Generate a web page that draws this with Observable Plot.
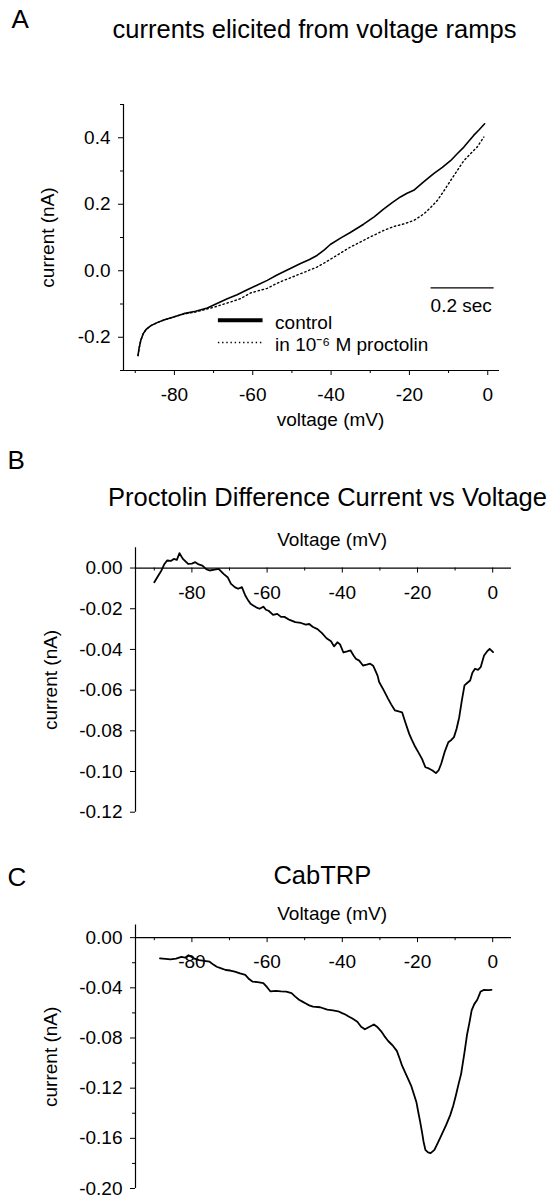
<!DOCTYPE html>
<html><head><meta charset="utf-8">
<script src="https://cdn.jsdelivr.net/npm/d3@7"></script>
<script src="https://cdn.jsdelivr.net/npm/@observablehq/plot@0.6"></script>
<style>
html,body{margin:0;padding:0;background:#fff;}
#root{width:559px;height:1199px;overflow:hidden;background:#fff;}
#root svg{display:block;}
</style></head><body><div id="root"></div>
<script>
// ---------- Panel A: currents elicited from voltage ramps ----------
const ctrlV = [-89.3,-89.0,-88.6,-88.0,-87.2,-86.0,-84.4,-82.7,-80.2,-77.6,-74.6,-71.6,-69.0,-66.5,-64.0,-61.4,-58.8,-56.3,-53.8,-51.2,-47.8,-45.5,-43.6,-41.8,-40.2,-37.6,-35.1,-31.7,-29.0,-26.6,-24.4,-22.3,-20.6,-18.9,-16.3,-13.8,-11.6,-9.5,-7.8,-6.1,-4.8,-3.6,-2.2,-0.8];
const ctrlI = [-0.255,-0.232,-0.210,-0.190,-0.176,-0.165,-0.156,-0.148,-0.139,-0.129,-0.122,-0.112,-0.098,-0.084,-0.072,-0.057,-0.043,-0.029,-0.013,0.002,0.022,0.034,0.046,0.062,0.079,0.098,0.115,0.140,0.162,0.185,0.205,0.222,0.233,0.242,0.268,0.292,0.311,0.331,0.352,0.372,0.390,0.407,0.424,0.442];
const procV = [-89.3,-89.0,-88.6,-88.0,-87.2,-86.0,-84.4,-82.7,-80.2,-77.6,-74.6,-72.0,-70.0,-66.5,-63.1,-60.6,-58.5,-56.3,-54.2,-52.1,-49.9,-47.8,-45.7,-43.6,-41.5,-39.4,-37.2,-35.1,-32.9,-30.8,-28.7,-26.6,-24.0,-21.4,-18.9,-16.3,-14.6,-12.9,-11.2,-9.5,-7.8,-6.1,-4.4,-2.7,-1.0];
const procI = [-0.255,-0.232,-0.210,-0.190,-0.176,-0.165,-0.156,-0.148,-0.139,-0.130,-0.124,-0.116,-0.110,-0.097,-0.084,-0.067,-0.060,-0.053,-0.040,-0.029,-0.019,-0.009,0.001,0.011,0.025,0.040,0.056,0.071,0.084,0.097,0.109,0.121,0.133,0.141,0.151,0.171,0.190,0.211,0.240,0.271,0.301,0.331,0.352,0.372,0.402];
const aXDomain = [-93, 3];
const aYDomain = [-0.3, 0.5];
const aXMajor = [-80, -60, -40, -20, 0];
const aXMinor = [-90, -70, -50, -30, -10];
const aYMajor = [-0.2, 0.0, 0.2, 0.4];
const aYMinor = [-0.3, -0.1, 0.1, 0.3, 0.5];
const legendLabels = ["control", "in 10\u207B\u2076 M proctolin"];
const legendLineY = [-0.149, -0.216];
const legendTextY = [-0.174, -0.241];
const legendX = {x1: -68.9, x2: -57.5, text: -54.3};
const scaleBar = {x1: -14.6, x2: 1.5, y: -0.0513, labelY: -0.1247, label: "0.2 sec"};

// ---------- Panel B: Proctolin difference current ----------
const diffV = [-90.0,-89.2,-88.1,-87.3,-86.6,-85.6,-84.8,-84.0,-83.3,-82.4,-81.0,-80.0,-79.1,-78.2,-77.2,-76.2,-75.3,-74.0,-72.9,-71.5,-70.5,-69.6,-68.5,-67.7,-66.7,-65.8,-65.0,-64.4,-63.6,-62.9,-62.0,-61.0,-60.3,-59.6,-58.4,-57.3,-56.3,-55.4,-54.0,-52.5,-51.0,-49.7,-48.8,-47.8,-46.6,-45.4,-44.2,-43.0,-42.2,-41.3,-40.6,-39.7,-38.7,-37.8,-37.0,-36.4,-35.5,-34.5,-33.5,-32.6,-31.8,-31.2,-30.6,-30.2,-29.0,-27.8,-27.0,-26.0,-25.0,-24.1,-23.2,-22.2,-21.5,-20.8,-19.8,-18.8,-17.9,-17.0,-16.0,-15.1,-14.4,-13.7,-12.8,-11.8,-11.0,-10.3,-9.6,-8.9,-8.2,-7.5,-6.8,-6.0,-5.4,-4.7,-3.9,-3.2,-2.3,-1.5,-0.8,0.1];
const diffI = [-0.0070,-0.0045,-0.0012,0.0020,0.0037,0.0035,0.0045,0.0040,0.0073,0.0045,0.0020,0.0022,0.0029,0.0018,0.0012,-0.0005,-0.0012,-0.0008,-0.0004,-0.0030,-0.0045,-0.0078,-0.0095,-0.0102,-0.0094,-0.0135,-0.0160,-0.0176,-0.0185,-0.0193,-0.0200,-0.0190,-0.0205,-0.0210,-0.0230,-0.0225,-0.0240,-0.0240,-0.0255,-0.0266,-0.0270,-0.0278,-0.0275,-0.0290,-0.0300,-0.0320,-0.0345,-0.0360,-0.0385,-0.0365,-0.0375,-0.0415,-0.0410,-0.0405,-0.0430,-0.0446,-0.0455,-0.0479,-0.0475,-0.0470,-0.0480,-0.0504,-0.0530,-0.0560,-0.0600,-0.0643,-0.0670,-0.0700,-0.0705,-0.0709,-0.0760,-0.0815,-0.0845,-0.0872,-0.0905,-0.0938,-0.0979,-0.0985,-0.0995,-0.1008,-0.0995,-0.0962,-0.0905,-0.0856,-0.0845,-0.0831,-0.0790,-0.0733,-0.0650,-0.0577,-0.0565,-0.0553,-0.0515,-0.0495,-0.0500,-0.0487,-0.0430,-0.0410,-0.0397,-0.0413];
const bXDomain = [-95, 5];
const bYDomain = [-0.12, 0.01];
const bYMajor = [0, -0.02, -0.04, -0.06, -0.08, -0.10, -0.12];

// ---------- Panel C: CabTRP ----------
const trpV = [-88.5,-87.0,-85.7,-84.2,-82.8,-81.8,-80.9,-79.5,-78.1,-76.7,-75.3,-74.3,-73.4,-72.2,-71.0,-69.8,-68.6,-67.2,-65.8,-64.8,-63.9,-62.5,-61.0,-60.0,-59.1,-57.7,-56.3,-54.9,-53.5,-52.5,-51.5,-50.6,-49.7,-48.8,-47.8,-45.9,-44.0,-42.5,-41.1,-40.2,-39.2,-38.2,-37.3,-36.0,-35.0,-34.0,-33.0,-31.6,-30.6,-29.7,-28.8,-27.8,-26.6,-25.5,-24.8,-24.1,-22.9,-21.7,-21.0,-20.3,-19.8,-19.3,-18.8,-18.4,-17.9,-17.2,-16.5,-15.5,-14.5,-13.6,-12.4,-11.3,-10.5,-9.8,-9.1,-8.4,-7.5,-6.8,-6.2,-5.6,-4.9,-4.1,-3.2,-2.3,-1.2,-0.3];
const trpI = [-0.0166,-0.0170,-0.0174,-0.0168,-0.0153,-0.0160,-0.0140,-0.0165,-0.0179,-0.0185,-0.0192,-0.0215,-0.0232,-0.0245,-0.0258,-0.0262,-0.0271,-0.0285,-0.0297,-0.0330,-0.0350,-0.0355,-0.0363,-0.0395,-0.0429,-0.0425,-0.0429,-0.0430,-0.0442,-0.0470,-0.0495,-0.0510,-0.0525,-0.0540,-0.0550,-0.0555,-0.0574,-0.0580,-0.0587,-0.0600,-0.0613,-0.0630,-0.0645,-0.0670,-0.0710,-0.0731,-0.0715,-0.0692,-0.0715,-0.0745,-0.0785,-0.0824,-0.0860,-0.0903,-0.0960,-0.1021,-0.1100,-0.1179,-0.1245,-0.1310,-0.1390,-0.1467,-0.1550,-0.1625,-0.1692,-0.1712,-0.1718,-0.1692,-0.1630,-0.1573,-0.1495,-0.1415,-0.1340,-0.1258,-0.1170,-0.1086,-0.0915,-0.0770,-0.0680,-0.0580,-0.0530,-0.0495,-0.0429,-0.0416,-0.0418,-0.0416];
const cXDomain = [-95, 5];
const cYDomain = [-0.20, 0.01];
const cYMajor = [0, -0.04, -0.08, -0.12, -0.16, -0.20];
const cYMinor = [-0.02, -0.06, -0.10, -0.14, -0.18];

// shared voltage ticks for B and C (axis drawn on the zero line)
const vMajor = [-80, -60, -40, -20, 0];
const vMinor = [-90, -70, -50, -30, -10];

const FONT = "'Liberation Sans', Arial, Helvetica, sans-serif";
const zip = (xs, ys) => xs.map((v, k) => ({v, i: ys[k]}));
const fmt1 = d => d.toFixed(1);
const fmt2 = d => d.toFixed(2);
const baseStyle = {fontFamily: FONT, fontSize: "19px", color: "#000", background: "#fff", overflow: "visible"};
const txt = (s, o) => Plot.text([s], {text: d => d, fill: "#000", stroke: null, ...o});

// Panel A
const plotA = Plot.plot({
  width: 559, height: 450,
  marginTop: 104, marginBottom: 80, marginLeft: 123, marginRight: 60,
  style: baseStyle,
  x: {domain: aXDomain, label: null, axis: null},
  y: {domain: aYDomain, label: null, axis: null},
  marks: [
    Plot.ruleX([aXDomain[0]], {stroke: "#000", strokeWidth: 1.2}),
    Plot.ruleY([aYDomain[0]], {stroke: "#000", strokeWidth: 1.2}),
    Plot.axisY({ticks: aYMajor, tickSize: 5, tickPadding: 8, tickFormat: fmt1, label: null, stroke: "#000", fill: "#000"}),
    Plot.axisY({ticks: aYMinor, tickSize: 3, tickFormat: () => "", label: null, stroke: "#000"}),
    Plot.axisX({ticks: aXMajor, tickSize: 5, tickPadding: 12, tickFormat: d => String(d), label: null, stroke: "#000", fill: "#000"}),
    Plot.axisX({ticks: aXMinor, tickSize: 3, tickFormat: () => "", label: null, stroke: "#000"}),
    Plot.line(zip(procV, procI), {x: "v", y: "i", stroke: "#000", strokeWidth: 1.4, strokeDasharray: "1.4 2.8"}),
    Plot.line(zip(ctrlV, ctrlI), {x: "v", y: "i", stroke: "#000", strokeWidth: 1.6}),
    // legend
    Plot.link([legendLineY[0]], {x1: () => legendX.x1, x2: () => legendX.x2, y1: d => d, y2: d => d, stroke: "#000", strokeWidth: 4}),
    Plot.link([legendLineY[1]], {x1: () => legendX.x1, x2: () => legendX.x2, y1: d => d, y2: d => d, stroke: "#000", strokeWidth: 1.4, strokeDasharray: "1.4 2.8"}),
    Plot.text(legendLabels, {x: () => legendX.text, y: (d, k) => legendTextY[k], text: d => d, textAnchor: "start", lineAnchor: "bottom", fill: "#000"}),
    // time scale bar
    Plot.link([scaleBar], {x1: d => d.x1, x2: d => d.x2, y1: d => d.y, y2: d => d.y, stroke: "#000", strokeWidth: 1.3}),
    Plot.text([scaleBar], {x: d => d.x1, y: d => d.labelY, text: d => d.label, textAnchor: "start", lineAnchor: "bottom", fill: "#000"}),
    txt("A", {frameAnchor: "top-left", dx: -112, dy: -77, textAnchor: "start", lineAnchor: "bottom", fontSize: 26}),
    txt("currents elicited from voltage ramps", {frameAnchor: "top-left", dx: 191, dy: -67, textAnchor: "middle", lineAnchor: "bottom", fontSize: 25.5}),
    txt("current (nA)", {frameAnchor: "left", dx: -76, rotate: -90, textAnchor: "middle", lineAnchor: "middle"}),
    txt("voltage (mV)", {frameAnchor: "bottom", dx: 19, dy: 55, textAnchor: "middle", lineAnchor: "bottom"})
  ]
});

function zeroLinePanel({height, marginTop, marginBottom, xDomain, yDomain, yMajor, yMinor, V, I, letter, letterDy, title, titleDx, titleDy, xLabelDy}) {
  const marks = [
    Plot.ruleX([xDomain[0]], {stroke: "#000", strokeWidth: 1.2}),
    Plot.ruleY([0], {stroke: "#000", strokeWidth: 1.2}),
    Plot.axisY({ticks: yMajor, tickSize: 5, tickPadding: 8, tickFormat: fmt2, label: null, stroke: "#000", fill: "#000"})
  ];
  if (yMinor) marks.push(Plot.axisY({ticks: yMinor, tickSize: 3, tickFormat: () => "", label: null, stroke: "#000"}));
  marks.push(
    Plot.ruleX(vMajor, {x: d => d, y1: () => 0, y2: () => 0, insetBottom: -5, stroke: "#000"}),
    Plot.ruleX(vMinor, {x: d => d, y1: () => 0, y2: () => 0, insetBottom: -3, stroke: "#000"}),
    Plot.text(vMajor, {x: d => d, y: () => 0, text: d => String(d), dy: 17, lineAnchor: "top", fill: "#000"}),
    Plot.line(zip(V, I), {x: "v", y: "i", stroke: "#000", strokeWidth: 1.8}),
    txt(letter, {frameAnchor: "top-left", dx: -128, dy: letterDy, textAnchor: "start", lineAnchor: "bottom", fontSize: 26}),
    txt(title, {frameAnchor: "top-left", dx: titleDx, dy: titleDy, textAnchor: "middle", lineAnchor: "bottom", fontSize: 25.5}),
    txt("Voltage (mV)", {frameAnchor: "top", dx: 8.6, dy: xLabelDy, textAnchor: "middle", lineAnchor: "bottom"}),
    txt("current (nA)", {frameAnchor: "left", dx: -85, rotate: -90, textAnchor: "middle", lineAnchor: "middle"})
  );
  return Plot.plot({
    width: 559, height, marginTop, marginBottom, marginLeft: 135, marginRight: 48,
    style: baseStyle,
    x: {domain: xDomain, label: null, axis: null},
    y: {domain: yDomain, label: null, axis: null},
    marks
  });
}

const plotB = zeroLinePanel({height: 400, marginTop: 97.2, marginBottom: 38.3, xDomain: bXDomain, yDomain: bYDomain, yMajor: bYMajor, yMinor: null,
  V: diffV, I: diffI, letter: "B", letterDy: -79.2, title: "Proctolin Difference Current vs Voltage", titleDx: 192, titleDy: -42.2, xLabelDy: -2.2});
const plotC = zeroLinePanel({height: 349, marginTop: 74.6, marginBottom: 11, xDomain: cXDomain, yDomain: cYDomain, yMajor: cYMajor, yMinor: cYMinor,
  V: trpV, I: trpI, letter: "C", letterDy: -39.6, title: "CabTRP", titleDx: 186.8, titleDy: -41.6, xLabelDy: -5.6});

const root = document.getElementById("root");
root.append(plotA, plotB, plotC);
</script></body></html>
